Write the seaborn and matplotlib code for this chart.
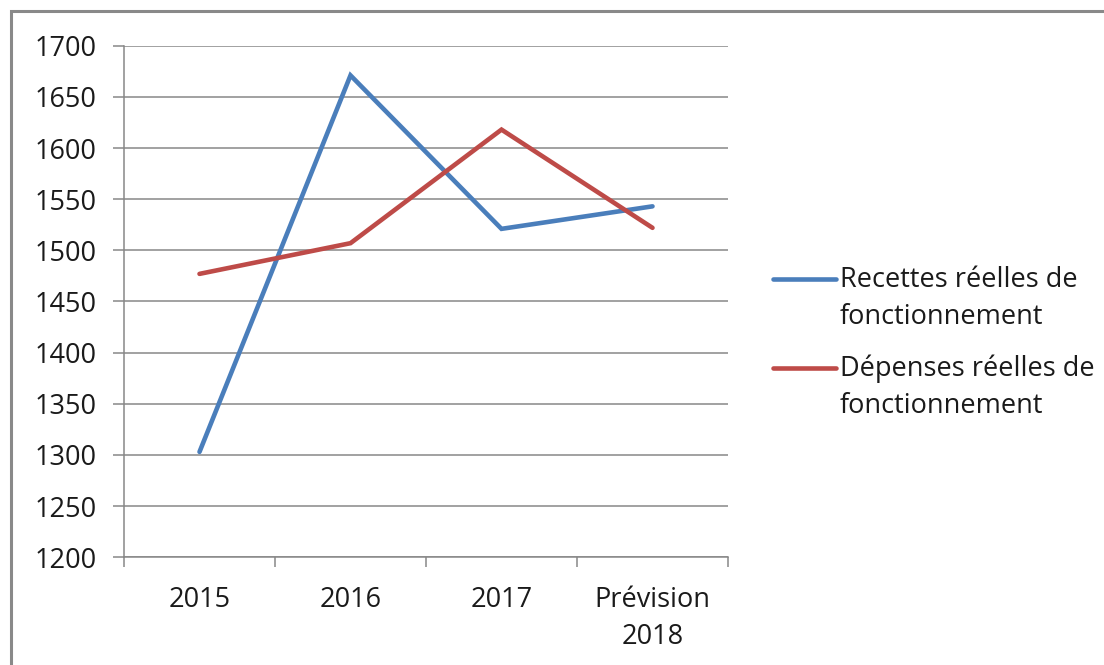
import numpy as np
import pandas as pd
import matplotlib
matplotlib.use("Agg")
import matplotlib.pyplot as plt
from matplotlib.legend_handler import HandlerLine2D
from matplotlib.patches import Rectangle
import seaborn as sns

# Data
years = ["2015", "2016", "2017", "Prévision\n2018"]
recettes = [1303, 1671, 1521, 1543]
depenses = [1477, 1507, 1618, 1522]
series_names = ["Recettes réelles de\nfonctionnement",
                "Dépenses réelles de\nfonctionnement"]
series_colors = ["#4A7EBB", "#BE4B48"]
y_ticks = list(range(1200, 1701, 50))

df = pd.DataFrame({
    "annee": years * 2,
    "valeur": recettes + depenses,
    "serie": [series_names[0]] * len(years) + [series_names[1]] * len(years),
})

sns.set_theme(style="white")
plt.rcParams["font.family"] = ["Open Sans", "DejaVu Sans"]
FS = 19.5
LS = 1.43

fig = plt.figure(figsize=(11.04, 6.65), dpi=100)
ax = fig.add_axes([124 / 1104, 1 - 557.3 / 665, (728 - 124) / 1104, (557.3 - 45.7) / 665])

sns.lineplot(data=df, x="annee", y="valeur", hue="serie",
             palette=series_colors, linewidth=3.3, ax=ax, sort=False,
             solid_capstyle="round", solid_joinstyle="miter")

ax.set_xlim(-0.5, len(years) - 0.5)
ax.set_ylim(1200, 1700)
ax.set_yticks(y_ticks)
ax.set_xlabel("")
ax.set_ylabel("")

grid_c = "#878787"
ax.yaxis.grid(True, color=grid_c, linewidth=1.1)
ax.xaxis.grid(False)
for side in ["top", "right"]:
    ax.spines[side].set_visible(False)
for side in ["left", "bottom"]:
    ax.spines[side].set_color(grid_c)
    ax.spines[side].set_linewidth(1.1)

# category boundaries as tick marks, labels centered between them
ax.set_xticks(np.arange(-0.5, len(years), 1.0))
ax.set_xticklabels([])
ax.set_xticks(np.arange(len(years)), minor=True)
ax.set_xticklabels(years, minor=True, fontsize=FS, color="#1a1a1a",
                   linespacing=LS)
ax.tick_params(axis="x", which="major", direction="out", length=7,
               width=1.1, color=grid_c, bottom=True)
ax.tick_params(axis="x", which="minor", length=0, pad=21, bottom=True)
ax.tick_params(axis="y", direction="out", length=8, width=1.1,
               color=grid_c, left=True, pad=12, labelsize=FS,
               labelcolor="#1a1a1a")


class FirstLineHandler(HandlerLine2D):
    def __init__(self, shift, **kw):
        super().__init__(**kw)
        self.shift = shift

    def create_artists(self, legend, orig_handle, xdescent, ydescent,
                       width, height, fontsize, trans):
        artists = super().create_artists(legend, orig_handle, xdescent,
                                         ydescent, width, height, fontsize,
                                         trans)
        for a in artists:
            a.set_ydata(np.asarray(a.get_ydata()) + self.shift)
        return artists


handles, labels = ax.get_legend_handles_labels()
for h in handles:
    h.set_solid_capstyle("round")
leg = ax.legend(handles, labels, loc="upper left",
                bbox_to_anchor=(773 / 1104, 1 - 266 / 665),
                bbox_transform=fig.transFigure, frameon=False,
                fontsize=FS, handlelength=2.33, handletextpad=0.14,
                labelspacing=0.87, borderpad=0, borderaxespad=0,
                handler_map={h: FirstLineHandler(15.0) for h in handles})
for t in leg.get_texts():
    t.set_color("#1a1a1a")
    t.set_linespacing(LS)

# outer chart frame (top and left edges)
fig.patches.append(Rectangle((11 / 1104, -0.5), 2.0, 0.5 + 1 - 11 / 665,
                             transform=fig.transFigure, fill=False,
                             edgecolor="#898989", linewidth=2.2))

fig.savefig("out.png", dpi=100)
